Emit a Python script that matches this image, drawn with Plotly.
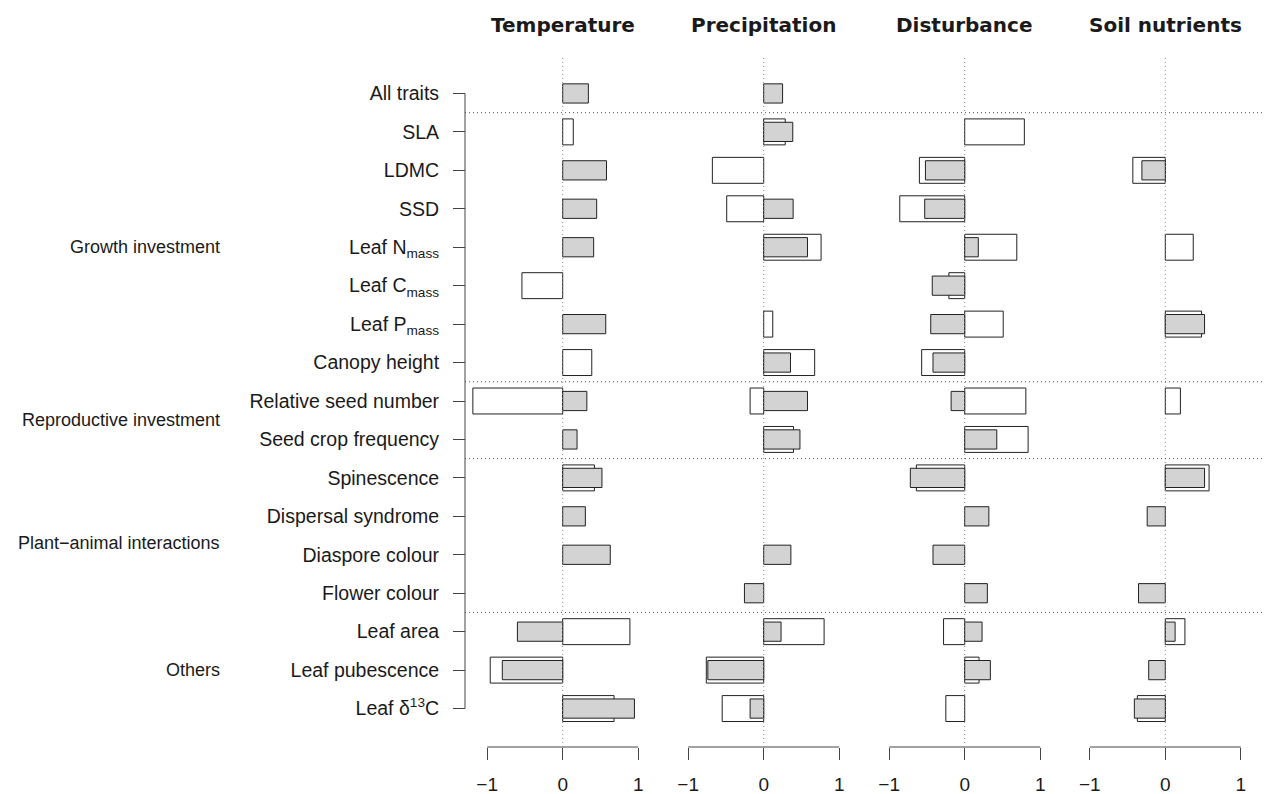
import plotly.graph_objects as go

# ---------------- data ----------------
traits = ["All traits", "SLA", "LDMC", "SSD", "Leaf N<sub>mass</sub>", "Leaf C<sub>mass</sub>",
          "Leaf P<sub>mass</sub>", "Canopy height", "Relative seed number", "Seed crop frequency",
          "Spinescence", "Dispersal syndrome", "Diaspore colour", "Flower colour",
          "Leaf area", "Leaf pubescence", "Leaf δ<sup>13</sup>C"]
panels = ["Temperature", "Precipitation", "Disturbance", "Soil nutrients"]
groups = ["Growth investment", "Reproductive investment", "Plant\u2212animal interactions", "Others"]
group_pos = [4.0, 8.5, 11.7, 15.0]
separators = [0.5, 7.5, 9.5, 13.5]
tick_vals = [-1, 0, 1]
tick_text = ["\u22121", "0", "1"]

N = None
temp_open = [N, 0.14, N, N, N, -0.54, N, 0.385, -1.19, N, 0.42, N, N, N, 0.89, -0.96, 0.68]
temp_filled = [0.34, N, 0.58, 0.45, 0.41, N, 0.57, N, 0.32, 0.19, 0.52, 0.30, 0.63, N, -0.60, -0.80, 0.95]

prec_open = [N, 0.285, -0.68, -0.49, 0.76, N, 0.12, 0.675, -0.18, 0.395, N, N, N, N, 0.80, -0.76, -0.55]
prec_filled = [0.25, 0.385, N, 0.39, 0.58, N, N, 0.355, 0.58, 0.48, N, N, 0.36, -0.255, 0.23, -0.74, -0.18]

dist_open = [N, 0.79, -0.60, -0.86, 0.69, -0.21, 0.51, -0.57, 0.81, 0.84, -0.64, N, N, N, -0.28, 0.19, -0.25]
dist_filled = [N, N, -0.52, -0.53, 0.18, -0.43, -0.45, -0.42, -0.18, 0.425, -0.72, 0.32, -0.42, 0.30, 0.23, 0.34, N]

soil_open = [N, N, -0.43, N, 0.37, N, 0.48, N, 0.20, N, 0.58, N, N, N, 0.26, N, -0.37]
soil_filled = [N, N, -0.31, N, N, N, 0.52, N, N, N, 0.52, -0.24, N, -0.355, 0.13, -0.22, -0.41]

open_series = [temp_open, prec_open, dist_open, soil_open]
filled_series = [temp_filled, prec_filled, dist_filled, soil_filled]

# ---------------- layout geometry ----------------
W, H = 1264, 794
zero_px = [562.7, 763.7, 964.7, 1165.3]
px_per_unit = 75.5
half_units = 1.331
plot_top, plot_bottom = 55, 747
yaxis_px = 465

TEXT = "#1a1a1a"
AX = "#444444"
FONT = "Liberation Sans, Arial, Helvetica, sans-serif"

fig = go.Figure()
rows = list(range(len(traits)))

for k in range(4):
    xa = "x" if k == 0 else f"x{k+1}"
    fig.add_trace(go.Bar(
        y=rows, x=open_series[k], orientation="h", width=0.675,
        marker=dict(color="white", line=dict(color="#222222", width=1)),
        xaxis=xa, yaxis="y", hoverinfo="skip", showlegend=False))
    fig.add_trace(go.Bar(
        y=rows, x=filled_series[k], orientation="h", width=0.5,
        marker=dict(color="#d3d3d3", line=dict(color="#222222", width=1)),
        xaxis=xa, yaxis="y", hoverinfo="skip", showlegend=False))

layout = dict(
    width=W, height=H, margin=dict(l=0, r=0, t=0, b=0),
    paper_bgcolor="white", plot_bgcolor="white",
    barmode="overlay", showlegend=False,
    font=dict(family=FONT, color=TEXT),
)

shapes = []
annotations = []
for k in range(4):
    left = max(0.0, zero_px[k] - half_units * px_per_unit)
    right = min(W, zero_px[k] + half_units * px_per_unit)
    rng = [(left - zero_px[k]) / px_per_unit, (right - zero_px[k]) / px_per_unit]
    name = "xaxis" if k == 0 else f"xaxis{k+1}"
    xr = "x" if k == 0 else f"x{k+1}"
    layout[name] = dict(
        domain=[left / W, right / W], range=rng, anchor="y",
        showgrid=False, zeroline=False, showline=False,
        ticks="outside", ticklen=12, tickwidth=1, tickcolor=AX,
        tickvals=tick_vals, ticktext=tick_text,
        tickfont=dict(size=19, color=TEXT, family=FONT),
        ticklabelstandoff=8, fixedrange=True,
    )
    # bracket line from -1 to 1
    shapes.append(dict(type="line", xref=xr, yref="y domain", x0=tick_vals[0], x1=tick_vals[-1],
                       y0=0, y1=0, line=dict(color=AX, width=1)))
    # dotted zero line
    shapes.append(dict(type="line", xref=xr, yref="y domain", x0=0, x1=0, y0=0, y1=1,
                       line=dict(color="#8a8a8a", width=1, dash="1px,3px"), layer="above"))
    annotations.append(dict(text=f"<b>{panels[k]}</b>", xref=xr, x=0, yref="paper",
                            y=1 - 25 / H, xanchor="center", yanchor="middle", showarrow=False,
                            font=dict(family="DejaVu Sans, Arial, sans-serif", size=20, color=TEXT)))

layout["yaxis"] = dict(
    domain=[1 - plot_bottom / H, 1 - plot_top / H], range=[17.0, -1.0], autorange=False,
    anchor="free", position=yaxis_px / W,
    showgrid=False, zeroline=False, showline=False,
    ticks="outside", ticklen=12, tickwidth=1, tickcolor=AX,
    tickvals=rows, ticktext=traits,
    tickfont=dict(size=19.5, color=TEXT, family=FONT),
    ticklabelstandoff=10, fixedrange=True,
)

# y axis line spanning the rows
shapes.append(dict(type="line", xref="paper", yref="y", x0=yaxis_px / W, x1=yaxis_px / W,
                   y0=rows[0], y1=rows[-1], line=dict(color=AX, width=1)))
# horizontal group separators
for s in separators:
    shapes.append(dict(type="line", xref="paper", yref="y", x0=yaxis_px / W, x1=1, y0=s, y1=s,
                       line=dict(color="#555555", width=1, dash="1px,3px")))

for g, p in zip(groups, group_pos):
    annotations.append(dict(text=g, xref="paper", x=222 / W, yref="y", y=p,
                            xanchor="right", yanchor="middle", showarrow=False,
                            font=dict(size=18, color=TEXT, family=FONT)))

layout["shapes"] = shapes
layout["annotations"] = annotations
fig.update_layout(**layout)

fig.write_html("out.html", config={"displayModeBar": False})
